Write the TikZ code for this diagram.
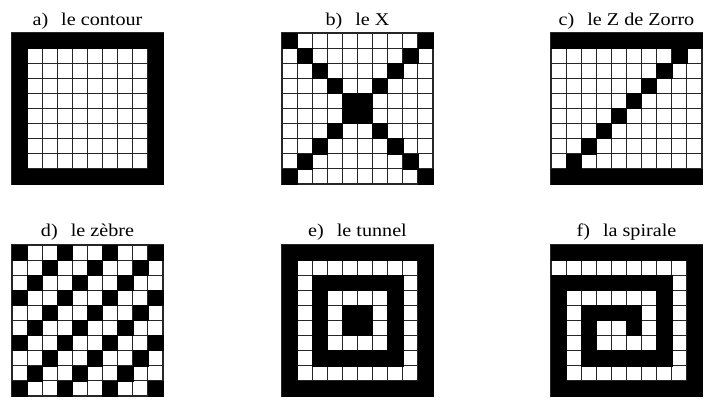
\documentclass[tikz,border=0pt]{standalone}
\usepackage{fontspec}
\setmainfont[FakeStretch=1.12]{Liberation Serif}

\def\pas{15.1}
% grille 10x10 : coin haut gauche (#1,#2), case noire si #3 vaut 1
\newcommand\grille[3]{%
  \foreach \row in {0,...,9}{
    \foreach \col in {0,...,9}{
      \draw[cell] ({#1+\col*\pas},{#2+\row*\pas}) rectangle ++(\pas,\pas);
    }}
  \foreach \row in {0,...,9}{
    \foreach \col in {0,...,9}{
      \pgfmathtruncatemacro\noir{#3}
      \ifnum\noir=1
        \fill[dark] ({#1+\col*\pas},{#2+\row*\pas}) rectangle ++(\pas,\pas);
      \fi
    }}
}
\newcommand\titre[2]{#1\hspace{13pt}#2}

\begin{document}
\begin{tikzpicture}[x=1pt, y=-1pt,
    cell/.style={draw=black!85, line width=1.1pt, fill=white},
    dark/.style={fill=black, draw=black, line width=0.5pt},
    caption/.style={anchor=base, inner sep=0pt, font=\fontsize{18}{21}\selectfont}
]
\useasboundingbox (0,0) rectangle (714,407);

% ligne du haut
\node[caption] (capa) at (87.5,25) {\titre{a)}{le contour}};
\node[caption] (capb) at (357.5,25) {\titre{b)}{le X}};
\node[caption] (capc) at (626.5,25) {\titre{c)}{le Z de Zorro}};
\grille{12}{33}{(\row==0 || \row==9 || \col==0 || \col==9)}
\grille{282}{33}{(\col==\row || \col==9-\row)}
\grille{551}{33}{(\row==0 || \row==9 || \col==9-\row)}

% ligne du bas
\node[caption] (capd) at (87.5,236) {\titre{d)}{le zèbre}};
\node[caption] (cape) at (357.5,236) {\titre{e)}{le tunnel}};
\node[caption] (capf) at (626.5,236) {\titre{f)}{la spirale}};
\grille{12}{245}{(mod(\row+\col,3)==0)}
\grille{282}{245}{(mod(min(\row,\col,9-\row,9-\col),2)==0)}
\grille{551}{245}{1-((\row==1 && \col<=8) || (\col==8 && \row>=1 && \row<=8)
  || (\row==8 && \col>=1 && \col<=8) || (\col==1 && \row>=3 && \row<=8)
  || (\row==3 && \col>=1 && \col<=6) || (\col==6 && \row>=3 && \row<=6)
  || (\row==6 && \col>=3 && \col<=6) || (\col==3 && \row>=5 && \row<=6)
  || (\row==5 && \col>=3 && \col<=4))}
\end{tikzpicture}
\end{document}
